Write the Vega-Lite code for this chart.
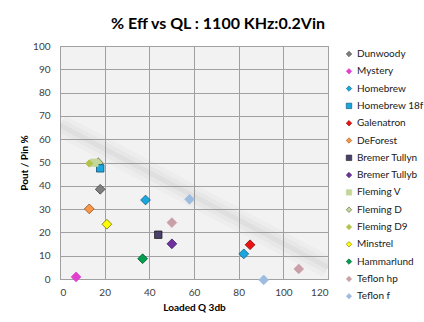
{
  "$schema": "https://vega.github.io/schema/vega-lite/v6.json",
  "width": 268,
  "height": 233,
  "autosize": {"type": "none"},
  "padding": {"left": 60, "top": 46, "right": 96, "bottom": 43},
  "background": "white",
  "title": {"text": "% Eff vs QL : 1100 KHz:0.2Vin", "font": "Lato", "fontSize": 16, "fontWeight": "bold", "color": "#000000", "anchor": "middle", "frame": "group", "dx": 24, "offset": 9},
  "config": {
    "view": {"fill": "#f2f2f2", "stroke": "#9a9a9a", "strokeWidth": 1},
    "font": "Lato",
    "axis": {"labelFont": "Lato", "labelFontSize": 10, "labelColor": "#404040", "titleFont": "Lato", "titleFontSize": 10, "titleFontWeight": "bold", "titleColor": "#000000", "gridColor": "#a0a0a0", "gridOpacity": 1, "domain": false, "ticks": false, "labelPadding": 8}
  },
  "datasets": {
    "pts": [
      {"name": "Dunwoody", "q": 18.0, "eff": 38.5},
      {"name": "Mystery", "q": 7.2, "eff": 0.9},
      {"name": "Homebrew", "q": 38.3, "eff": 33.9},
      {"name": "Homebrew", "q": 82.3, "eff": 10.8},
      {"name": "Homebrew 18f", "q": 18.0, "eff": 47.5},
      {"name": "Galenatron", "q": 85.1, "eff": 14.7},
      {"name": "DeForest", "q": 13.1, "eff": 30.1},
      {"name": "Bremer Tullyn", "q": 44.0, "eff": 19.0},
      {"name": "Bremer Tullyb", "q": 50.1, "eff": 15.1},
      {"name": "Fleming V", "q": 15.4, "eff": 49.9},
      {"name": "Fleming D", "q": 17.1, "eff": 49.9},
      {"name": "Fleming D9", "q": 13.1, "eff": 49.6},
      {"name": "Minstrel", "q": 21.0, "eff": 23.5},
      {"name": "Hammarlund", "q": 37.0, "eff": 8.7},
      {"name": "Teflon hp", "q": 50.1, "eff": 24.2},
      {"name": "Teflon hp", "q": 106.9, "eff": 4.3},
      {"name": "Teflon f", "q": 58.0, "eff": 34.2},
      {"name": "Teflon f", "q": 91.2, "eff": -0.4}
    ],
    "trend": [
      {"q": 0, "eff": 66},
      {"q": 120, "eff": 5}
    ]
  },
  "encoding": {
    "x": {"field": "q", "type": "quantitative", "title": "Loaded Q 3db", "scale": {"domain": [0, 120]}, "axis": {"values": [0, 20, 40, 60, 80, 100, 120], "titlePadding": 5}},
    "y": {"field": "eff", "type": "quantitative", "title": "Pout / Pin %", "scale": {"domain": [0, 100]}, "axis": {"values": [0, 10, 20, 30, 40, 50, 60, 70, 80, 90, 100], "labelPadding": 10, "titlePadding": 3}}
  },
  "layer": [
    {
      "data": {"name": "trend"},
      "mark": {"type": "line", "color": "#808080", "strokeWidth": 22, "opacity": 0.04, "clip": true}
    },
    {
      "data": {"name": "trend"},
      "mark": {"type": "line", "color": "#808080", "strokeWidth": 13, "opacity": 0.06, "clip": true}
    },
    {
      "data": {"name": "trend"},
      "mark": {"type": "line", "color": "#808080", "strokeWidth": 5, "opacity": 0.07, "clip": true}
    },
    {
      "data": {"name": "pts"},
      "transform": [{"filter": "datum.name !== 'Homebrew 18f' && datum.name !== 'Bremer Tullyn' && datum.name !== 'Fleming V' && datum.name !== 'Fleming D9'"}],
      "mark": {"type": "point", "filled": true, "opacity": 1, "strokeWidth": 0.8, "size": 95},
      "encoding": {
        "color": {
          "field": "name", "type": "nominal",
          "scale": {
            "domain": ["Dunwoody", "Mystery", "Homebrew", "Homebrew 18f", "Galenatron", "DeForest", "Bremer Tullyn", "Bremer Tullyb", "Fleming V", "Fleming D", "Fleming D9", "Minstrel", "Hammarlund", "Teflon hp", "Teflon f"],
            "range": ["#7f7f7f", "#e040d0", "#1aa7e0", "#1aa7e0", "#ee1111", "#f79646", "#4b3f6e", "#7030a0", "#c4d79b", "#c4d79b", "#b4c24c", "#ffff00", "#00a050", "#c9a0a8", "#9dbde0"]
          },
          "legend": {"title": null, "orient": "none", "legendX": 284, "legendY": 3, "labelFont": "Lato", "labelFontSize": 10, "labelColor": "#202020", "symbolSize": 30, "rowPadding": 7.3, "symbolStrokeWidth": 0.6, "labelOffset": 3}
        },
        "shape": {
          "field": "name", "type": "nominal",
          "scale": {
            "domain": ["Dunwoody", "Mystery", "Homebrew", "Homebrew 18f", "Galenatron", "DeForest", "Bremer Tullyn", "Bremer Tullyb", "Fleming V", "Fleming D", "Fleming D9", "Minstrel", "Hammarlund", "Teflon hp", "Teflon f"],
            "range": ["diamond", "diamond", "diamond", "square", "diamond", "diamond", "square", "diamond", "square", "diamond", "diamond", "diamond", "diamond", "diamond", "diamond"]
          }
        },
        "stroke": {
          "field": "name", "type": "nominal", "legend": null,
          "scale": {
            "domain": ["Dunwoody", "Mystery", "Homebrew", "Homebrew 18f", "Galenatron", "DeForest", "Bremer Tullyn", "Bremer Tullyb", "Fleming V", "Fleming D", "Fleming D9", "Minstrel", "Hammarlund", "Teflon hp", "Teflon f"],
            "range": ["#404040", "#e040d0", "#135f80", "#0e4f70", "#7a0000", "#905020", "#202020", "#3a1a60", "#c4d79b", "#606040", "#b4c24c", "#707000", "#00502a", "#c9a0a8", "#9dbde0"]
          }
        }
      }
    },
    {
      "data": {"name": "pts"},
      "transform": [{"filter": "datum.name === 'Homebrew 18f' || datum.name === 'Bremer Tullyn' || datum.name === 'Fleming V' || datum.name === 'Fleming D9'"}],
      "mark": {"type": "point", "filled": true, "opacity": 1, "strokeWidth": 0.8, "size": 55},
      "encoding": {
        "color": {"field": "name", "type": "nominal"},
        "shape": {"field": "name", "type": "nominal"},
        "stroke": {"field": "name", "type": "nominal", "legend": null}
      }
    }
  ]
}
